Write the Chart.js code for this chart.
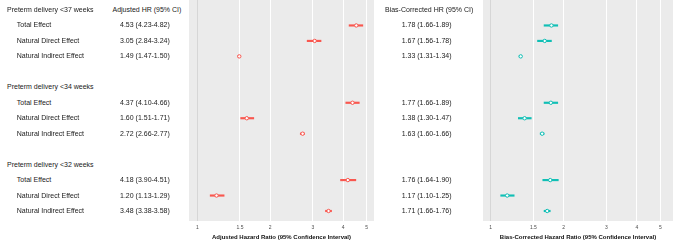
<!DOCTYPE html>
<html>
<head>
<meta charset="utf-8">
<script src="https://cdn.jsdelivr.net/npm/chart.js@4.4.1/dist/chart.umd.min.js"></script>
<style>
  body { margin: 0; background: #fff; }
  #page { position: relative; width: 673px; height: 245px; overflow: hidden;
          font-family: "Liberation Sans", Arial, sans-serif; color: #1a1a1a; }
  .t { position: absolute; font-size: 7px; line-height: 10px; white-space: nowrap; }
  canvas { position: absolute; top: 0; }
</style>
</head>
<body>
<div id="page">
  <canvas id="adj" width="185" height="245" style="left:189px"></canvas>
  <canvas id="bc" width="190" height="245" style="left:483px"></canvas>
</div>
<script>
const groups = ["Preterm delivery <37 weeks", "Preterm delivery <34 weeks", "Preterm delivery <32 weeks"];
const effects = ["Total Effect", "Natural Direct Effect", "Natural Indirect Effect"];

// adjusted hazard ratios, 3 effects per group
const adjHR = [4.53, 3.05, 1.49, 4.37, 1.60, 2.72, 4.18, 1.20, 3.48];
const adjLo = [4.23, 2.84, 1.47, 4.10, 1.51, 2.66, 3.90, 1.13, 3.38];
const adjHi = [4.82, 3.24, 1.50, 4.66, 1.71, 2.77, 4.51, 1.29, 3.58];

// bias-corrected hazard ratios
const bcHR = [1.78, 1.67, 1.33, 1.77, 1.38, 1.63, 1.76, 1.17, 1.71];
const bcLo = [1.66, 1.56, 1.31, 1.66, 1.30, 1.60, 1.64, 1.10, 1.66];
const bcHi = [1.89, 1.78, 1.34, 1.89, 1.47, 1.66, 1.90, 1.25, 1.76];

const xTicks = [1, 1.5, 2, 3, 4, 5];

const ROW_TOP = 10, ROW_STEP = 15.46;
const rowOf = (i) => Math.floor(i / 3) * 5 + (i % 3) + 1;   // header rows at 0, 5, 10
const rowY = (r) => ROW_TOP + r * ROW_STEP;

// text columns
const page = document.getElementById("page");
function addText(str, left, y) {
  const d = document.createElement("div");
  d.className = "t";
  d.textContent = str;
  d.style.left = left + "px";
  d.style.top = (y - 5) + "px";
  page.appendChild(d);
}
const fmt = (v, lo, hi) => `${v.toFixed(2)} (${lo.toFixed(2)}-${hi.toFixed(2)})`;

addText("Adjusted HR (95% CI)", 112.5, rowY(0));
addText("Bias-Corrected HR (95% CI)", 385, rowY(0));
groups.forEach((g, gi) => addText(g, 7, rowY(gi * 5)));
adjHR.forEach((v, i) => {
  addText(effects[i % 3], 16.8, rowY(rowOf(i)));
  addText(fmt(v, adjLo[i], adjHi[i]), 120, rowY(rowOf(i)));
  addText(fmt(bcHR[i], bcLo[i], bcHi[i]), 401.7, rowY(rowOf(i)));
});

const panelBg = {
  id: "panelBg",
  beforeDraw(chart) {
    const { ctx, chartArea: a } = chart;
    ctx.save();
    ctx.fillStyle = "#ebebeb";
    ctx.fillRect(a.left, a.top, a.right - a.left, a.bottom - a.top);
    ctx.restore();
  }
};

function forest(id, hr, lo, hi, color, xmin, xmax, title) {
  new Chart(document.getElementById(id), {
    data: {
      datasets: [
        {
          type: "bar",
          indexAxis: "y",
          data: hr.map((v, i) => ({ y: rowOf(i), x: [lo[i], hi[i]] })),
          backgroundColor: color,
          barThickness: 1.5,
          order: 2
        },
        {
          type: "scatter",
          data: hr.map((v, i) => ({ x: v, y: rowOf(i) })),
          pointRadius: 1.7,
          pointBorderWidth: 1,
          pointBorderColor: color,
          pointBackgroundColor: "#ffffff",
          order: 1
        }
      ]
    },
    options: {
      responsive: false,
      devicePixelRatio: 1,
      animation: false,
      layout: { padding: 0, autoPadding: false },
      plugins: { legend: { display: false }, tooltip: { enabled: false } },
      scales: {
        y: {
          type: "linear", display: false, reverse: true, offset: false,
          grid: { offset: false }, min: -0.647, max: 13.647
        },
        x: {
          type: "logarithmic",
          position: "bottom",
          beginAtZero: false,
          offset: false,
          min: xmin,
          max: xmax,
          afterBuildTicks: (s) => { s.ticks = xTicks.map((v) => ({ value: v })); },
          afterFit: (s) => { s.height = 24; s.paddingLeft = 0; s.paddingRight = 0; },
          border: { display: false },
          grid: {
            drawTicks: false,
            lineWidth: 1,
            color: (c) => (c.tick && c.tick.value === 1 ? "#d6d6d6" : "#ffffff")
          },
          ticks: {
            padding: 4,
            maxRotation: 0,
            autoSkip: false,
            color: "#4d4d4d",
            font: { family: "Liberation Sans", size: 5 },
            callback: (v) => String(v)
          },
          title: {
            display: true,
            text: title,
            color: "#111111",
            padding: { top: 0, bottom: 4.5 },
            font: { family: "Liberation Sans", size: 6, weight: "bold" }
          }
        }
      }
    },
    plugins: [panelBg]
  });
}

forest("adj", adjHR, adjLo, adjHi, "#f9574f", 0.924, 5.36,
  "Adjusted Hazard Ratio (95% Confidence Interval)");
forest("bc", bcHR, bcLo, bcHi, "#10bfb5", 0.93, 5.64,
  "Bias-Corrected Hazard Ratio (95% Confidence Interval)");
</script>
</body>
</html>
